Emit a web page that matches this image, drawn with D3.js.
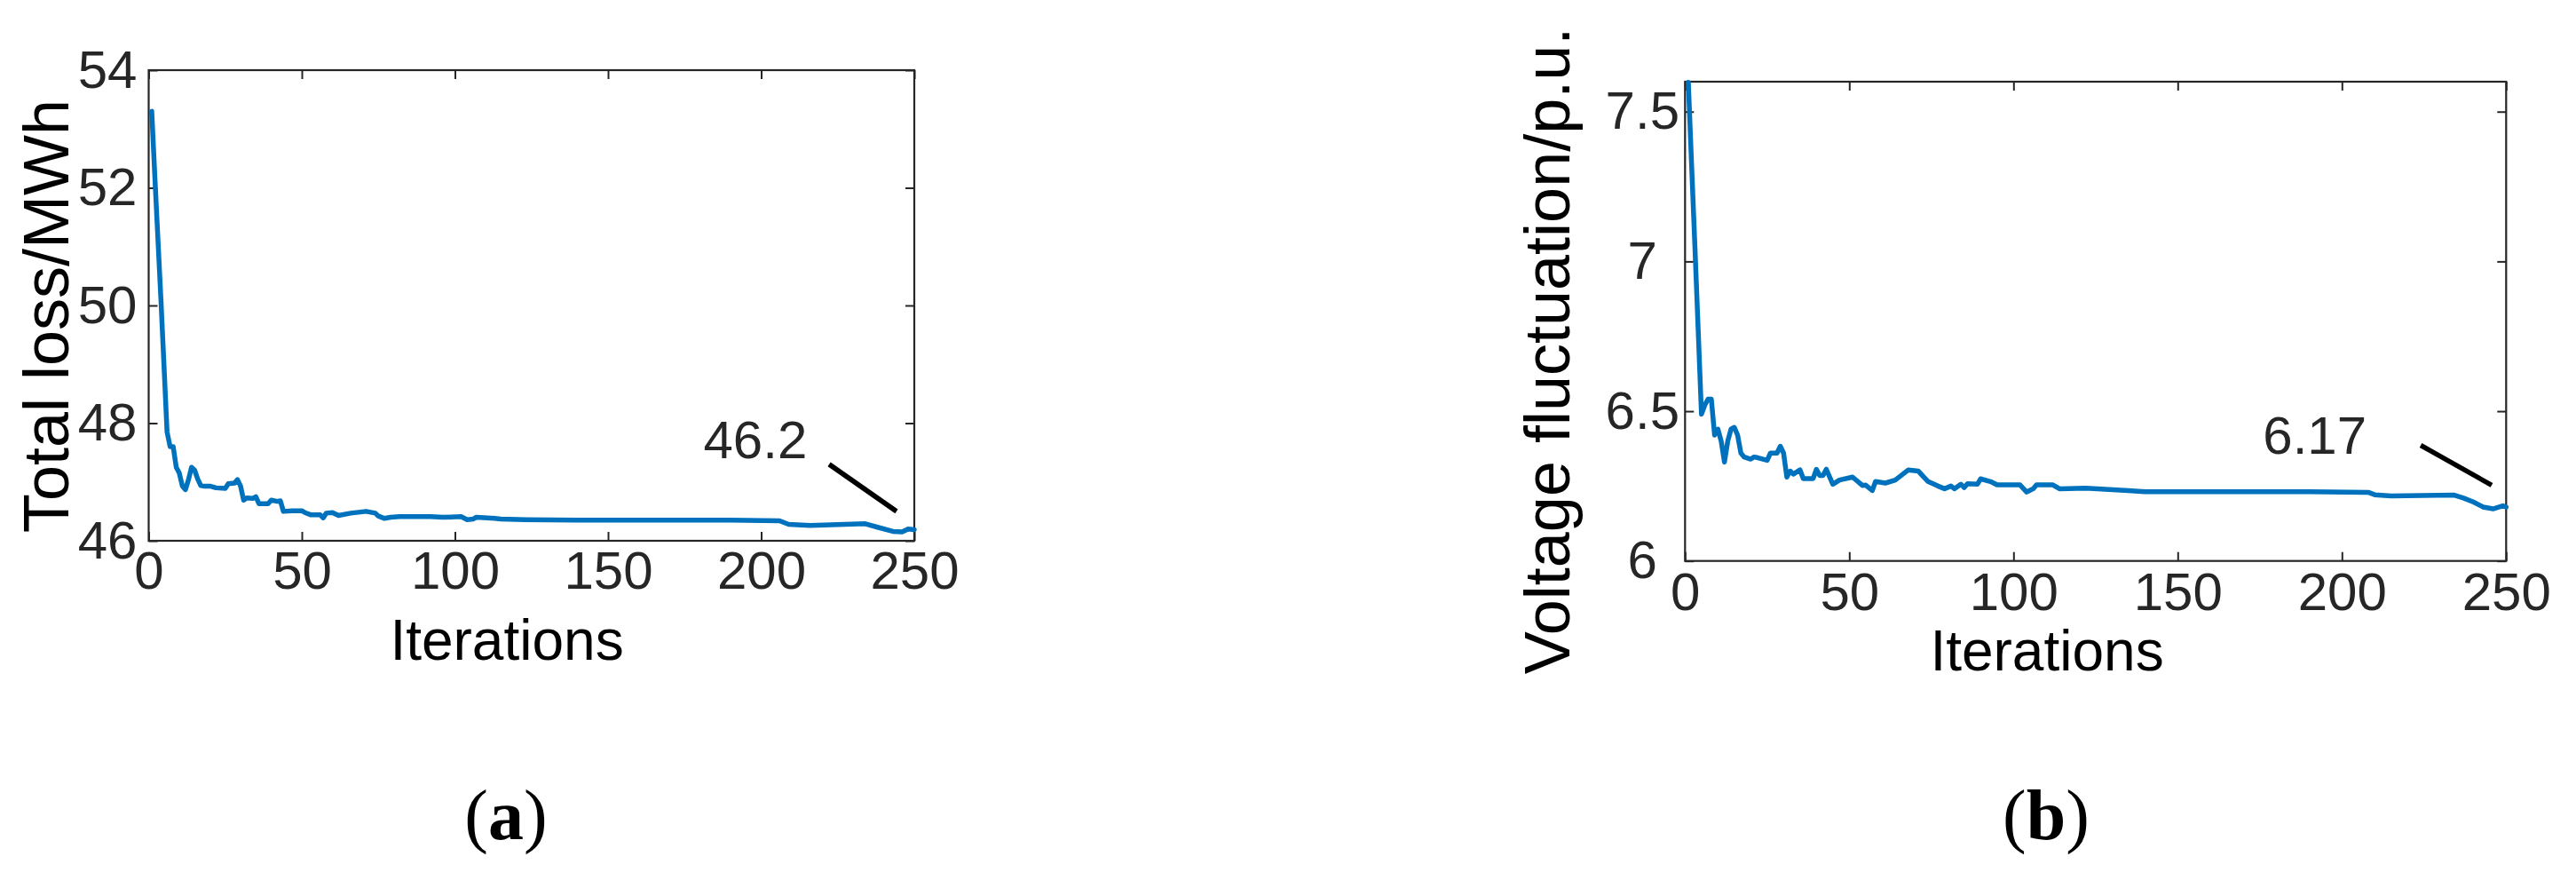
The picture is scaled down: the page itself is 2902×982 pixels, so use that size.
<!DOCTYPE html>
<html><head><meta charset="utf-8">
<script src="https://cdn.jsdelivr.net/npm/d3@7"></script>
<style>body{margin:0;background:#fff} svg{display:block}</style>
</head><body>
<svg id="c" width="2902" height="982"></svg>
<script>
// ---------- data ----------
const xTicks = [0, 50, 100, 150, 200, 250];
const lossTicks = [46, 48, 50, 52, 54];
const voltTicks = [6, 6.5, 7, 7.5];

const lossIter = [1,2,3,4,5,6,7,8,9,10,11,12,13,14,15,16,17,18,20,22,25,26,28,29,30,31,32,34,35,36,39,40,42,43,44,47,50,51,53,56,57,58,60,62,66,71,74,75,77,79,82,92,96,102,104,106,107,113,115,123,140,160,190,206,209,216,234,238,243,246,248,250];
const lossVal  = [53.3,52.2,51.15,50.1,48.98,47.85,47.6,47.6,47.25,47.15,46.93,46.87,47.04,47.25,47.2,47.05,46.94,46.93,46.93,46.9,46.89,46.97,46.98,47.04,46.93,46.69,46.73,46.72,46.75,46.63,46.63,46.69,46.67,46.68,46.5,46.51,46.51,46.48,46.44,46.44,46.39,46.47,46.48,46.43,46.47,46.5,46.47,46.42,46.38,46.4,46.41,46.41,46.4,46.41,46.36,46.37,46.4,46.38,46.37,46.36,46.35,46.35,46.35,46.34,46.28,46.26,46.29,46.23,46.16,46.15,46.2,46.19];

const voltIter = [1,2,3,4,5,6,7,8,9,10,11,12,13,14,15,16,17,18,20,21,22,25,26,28,29,30,31,32,33,35,36,39,40,41,42,43,45,47,51,54,55,57,58,61,64,68,71,74,77,79,81,82,84,85,86,89,90,93,95,102,104,106,107,112,114,122,135,140,190,208,210,215,234,237,240,243,246,249,250];
const voltVal  = [7.598,7.32,7.05,6.77,6.49,6.52,6.54,6.54,6.42,6.44,6.40,6.33,6.40,6.44,6.446,6.42,6.36,6.347,6.34,6.347,6.345,6.336,6.36,6.36,6.383,6.36,6.28,6.30,6.29,6.304,6.275,6.275,6.306,6.285,6.285,6.306,6.256,6.27,6.28,6.252,6.253,6.235,6.265,6.26,6.27,6.304,6.30,6.265,6.25,6.241,6.25,6.241,6.256,6.245,6.258,6.256,6.274,6.265,6.254,6.254,6.23,6.241,6.254,6.254,6.241,6.243,6.235,6.231,6.231,6.229,6.221,6.217,6.22,6.21,6.197,6.18,6.174,6.184,6.18];

const lossNoteText = "46.2";
const voltNoteText = "6.17";

// ---------- drawing ----------
const svg = d3.select("#c");
const AX = "#262626";
const LINE = "#0072BD";
const SANS = "'Liberation Sans', Arial, Helvetica, sans-serif";
const SERIF = "'Liberation Serif', 'Times New Roman', serif";

function panel(cfg) {
  const x = d3.scaleLinear().domain([0, 250]).range([cfg.x0, cfg.x1]);
  const y = d3.scaleLinear().domain(cfg.yDom).range([cfg.yB, cfg.yT]);
  const g = svg.append("g");

  // clip
  const cid = "clip" + cfg.id;
  svg.append("clipPath").attr("id", cid).append("rect")
    .attr("x", cfg.x0).attr("y", cfg.yT - 4).attr("width", cfg.x1 - cfg.x0 + 4).attr("height", cfg.yB - cfg.yT + 4);

  // bottom axis with labels
  const gb = g.append("g").attr("transform", `translate(0,${cfg.yB})`)
    .call(d3.axisBottom(x).tickValues(xTicks).tickSize(-10).tickSizeOuter(0).tickPadding(cfg.xPad).tickFormat(d3.format("d")));
  // top axis
  const gt = g.append("g").attr("transform", `translate(0,${cfg.yT})`)
    .call(d3.axisTop(x).tickValues(xTicks).tickSize(-10).tickSizeOuter(0).tickFormat(""));
  // left axis
  const gl = g.append("g").attr("transform", `translate(${cfg.x0},0)`)
    .call(d3.axisLeft(y).tickValues(cfg.yTicks).tickSize(-10).tickSizeOuter(0).tickPadding(cfg.yPad).tickFormat(d3.format("")));
  // right axis
  const gr = g.append("g").attr("transform", `translate(${cfg.x1},0)`)
    .call(d3.axisRight(y).tickValues(cfg.yTicks).tickSize(-10).tickSizeOuter(0).tickFormat(""));

  [gb, gt, gl, gr].forEach(a => {
    a.select(".domain").remove();
    a.selectAll(".tick line").attr("stroke", AX).attr("stroke-width", 2);
    a.selectAll(".tick text").attr("fill", AX).style("font-family", SANS).style("font-size", "60px");
  });
  if (cfg.yAnchor === "middle") {
    gl.selectAll(".tick text").attr("text-anchor", "middle").attr("x", -cfg.yMid);
  }

  // frame
  g.append("rect").attr("x", cfg.x0).attr("y", cfg.yT)
    .attr("width", cfg.x1 - cfg.x0).attr("height", cfg.yB - cfg.yT)
    .attr("fill", "none").attr("stroke", AX).attr("stroke-width", 2.2);

  // series
  const line = d3.line().x((d, i) => x(cfg.iter[i])).y(d => y(d));
  g.append("path").datum(cfg.vals).attr("d", line)
    .attr("fill", "none").attr("stroke", LINE).attr("stroke-width", 5.5)
    .attr("stroke-linejoin", "round").attr("stroke-linecap", "round");

  // annotation
  g.append("line")
    .attr("x1", x(cfg.note.a[0])).attr("y1", y(cfg.note.a[1]))
    .attr("x2", x(cfg.note.b[0])).attr("y2", y(cfg.note.b[1]))
    .attr("stroke", "#000").attr("stroke-width", 5.5);
  g.append("text").attr("x", x(cfg.note.t[0])).attr("y", y(cfg.note.t[1]))
    .attr("text-anchor", "end").attr("fill", AX)
    .style("font-family", SANS).style("font-size", "60px").text(cfg.note.text);

  // axis labels
  g.append("text").attr("transform", `translate(${cfg.ylx},${cfg.yly}) rotate(-90)`)
    .attr("text-anchor", "middle").attr("fill", "#000")
    .style("font-family", SANS).style("font-size", cfg.ylSize + "px").text(cfg.ylabel);
  g.append("text").attr("x", cfg.xlx).attr("y", cfg.xly)
    .attr("text-anchor", "middle").attr("fill", "#000")
    .style("font-family", SANS).style("font-size", "64px").text("Iterations");

  // caption
  const cap = g.append("text").attr("x", cfg.capx).attr("y", cfg.capy)
    .attr("text-anchor", "middle").attr("fill", "#000")
    .style("font-family", SERIF).style("font-size", "80px");
  cap.append("tspan").text("(");
  cap.append("tspan").attr("font-weight", "bold").text(cfg.cap);
  cap.append("tspan").text(")");
}

panel({
  id: "a", x0: 167.5, x1: 1030, yT: 79, yB: 609, yDom: [46, 54], yTicks: lossTicks,
  iter: lossIter, vals: lossVal, xPad: 11, yPad: 13,
  note: { a: [222.2, 47.30], b: [244.2, 46.50], t: [215, 47.40], text: lossNoteText },
  ylabel: "Total loss/MWh", ylx: 77, yly: 356, ylSize: 72,
  xlx: 571, xly: 743, capx: 570, capy: 945, cap: "a"
});

panel({
  id: "b", x0: 1898.3, x1: 2823.3, yT: 92, yB: 631.7, yDom: [6, 7.6], yTicks: voltTicks,
  iter: voltIter, vals: voltVal, xPad: 13, yPad: 8, yAnchor: "middle", yMid: 48,
  note: { a: [224, 6.386], b: [245.6, 6.253], t: [207.5, 6.359], text: voltNoteText },
  ylabel: "Voltage fluctuation/p.u.", ylx: 1768, yly: 395, ylSize: 72,
  xlx: 2306, xly: 755, capx: 2305, capy: 945, cap: "b"
});
</script>
</body></html>
